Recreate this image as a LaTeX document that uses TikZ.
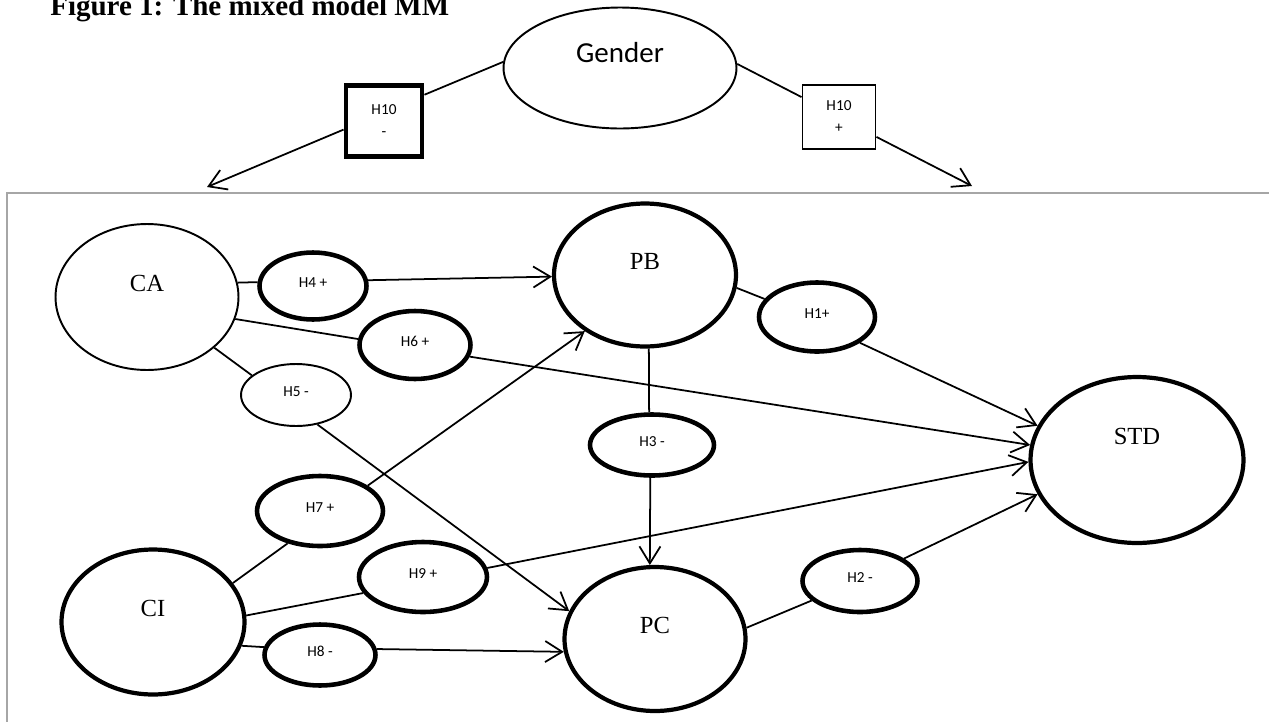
\documentclass[tikz,border=0pt]{standalone}
\usepackage{fontspec}
\setmainfont{Liberation Serif}
\newfontfamily\calibri{Carlito}
\usepackage{tikz}
\usetikzlibrary{shapes,positioning,arrows.meta}
\definecolor{framegray}{RGB}{166,166,166}

\begin{document}
\begin{tikzpicture}[x=0.02cm,y=-0.02cm]
        %
        % `construct' is used for the big ellipses, `hyp' for the small ones.
        % `hbox' is used for the two H10 boxes.
        % `effect' is used for the arrows.
        \tikzstyle{construct} = [draw,ellipse,inner sep=0pt,line width=1.1pt]
        \tikzstyle{hyp} = [draw,ellipse,inner sep=0pt,line width=2.6pt,text depth=4pt,font=\calibri\fontsize{8.7}{10}\selectfont]
        \tikzstyle{hbox} = [draw,rectangle,inner sep=0pt,align=center,font=\calibri\fontsize{8.7}{12.5}\selectfont]
        \tikzstyle{heavy} = [line width=2.4pt]
        \tikzstyle{slim} = [line width=1.1pt]
        \tikzstyle{lv} = [font=\fontsize{14}{16}\selectfont,yshift=0.28cm]
        \tikzstyle{link} = [line width=1pt]
        \tikzstyle{effect} = [link,-{Straight Barb[length=3.4mm,width=4.2mm]}]
        \useasboundingbox (0,0) rectangle (1269,721);
        %
        % Title
        \node[anchor=base west,inner sep=0pt,font=\bfseries\fontsize{16.5}{18}\selectfont] (title) at (50,15) {Figure 1: The mixed model MM};
        %
        % Gender
        \node[construct,minimum width=4.66cm,minimum height=2.42cm,label={[lv,font=\calibri\fontsize{16.5}{18}\selectfont,yshift=0.02cm]center:Gender}] (gender) at (620,68) {};
        \node[hbox,line width=2.8pt,minimum width=1.52cm,minimum height=1.42cm] (h10m) at (384,121) {H10\\-};
        \node[hbox,slim,minimum width=1.46cm,minimum height=1.28cm] (h10p) at (839,117) {H10\\+};
        \coordinate (tipL) at (207,187);
        \coordinate (tipR) at (972,186);
        \draw[link] (gender.177) -- (h10m.33);
        \draw[effect] (h10m.192) -- (tipL);
        \draw[link] (gender.2) -- (h10p.152);
        \draw[effect] (h10p.-28) -- (tipR);
        %
        % Frame
        \draw[framegray,line width=1.5pt] (7,193) rectangle (1300,760);
        %
        % Constructs
        \node[construct,minimum width=3.66cm,minimum height=2.92cm,label={[lv]center:CA}] (CA) at (147,297) {};
        \node[construct,heavy,minimum width=3.64cm,minimum height=2.86cm,label={[lv]center:PB}] (PB) at (645,275) {};
        \node[construct,heavy,minimum width=4.26cm,minimum height=3.32cm,label={[lv,yshift=0.2cm]center:STD}] (STD) at (1137,460) {};
        \node[construct,heavy,minimum width=3.66cm,minimum height=2.90cm,label={[lv]center:CI}] (CI) at (153,622) {};
        \node[construct,heavy,minimum width=3.62cm,minimum height=2.88cm,label={[lv]center:PC}] (PC) at (655,639) {};
        %
        % Hypotheses
        \node[hyp,minimum width=2.14cm,minimum height=1.34cm] (H4) at (313,286) {H4 +};
        \node[hyp,minimum width=2.22cm,minimum height=1.36cm] (H6) at (415,345) {H6 +};
        \node[hyp,slim,minimum width=2.2cm,minimum height=1.24cm] (H5) at (296,395) {H5 -};
        \node[hyp,minimum width=2.32cm,minimum height=1.38cm] (H1) at (817,317) {H1+};
        \node[hyp,minimum width=2.48cm,minimum height=1.22cm] (H3) at (652,445) {H3 -};
        \node[hyp,minimum width=2.52cm,minimum height=1.4cm] (H7) at (320,511) {H7 +};
        \node[hyp,minimum width=2.56cm,minimum height=1.4cm] (H9) at (423,577) {H9 +};
        \node[hyp,minimum width=2.22cm,minimum height=1.22cm] (H8) at (320,655) {H8 -};
        \node[hyp,minimum width=2.3cm,minimum height=1.24cm] (H2) at (860,581) {H2 -};
        %
        % Paths
        \draw[link] (CA.9) -- (H4.176);
        \draw[effect] (H4.6) -- (PB.181);
        \draw[link] (CA.-14) -- (H6.174);
        \draw[effect] (H6.-12) -- (STD.172);
        \draw[link] (CA.-37) -- (H5.156);
        \draw[effect] (H5.-54) -- (PC.162);
        \draw[link] (PB.-8) -- (H1.161);
        \draw[effect] (H1.-31) -- (STD.161);
        \draw[link] (PB.-87) -- (H3.95);
        \draw[effect] (H3.-93) -- (PC.94);
        \draw[link] (CI.26) -- (H7.225);
        \draw[effect] (H7.28) -- (PB.223);
        \draw[link] (CI.4) -- (H9.195);
        \draw[effect] (H9.8) -- (STD.181);
        \draw[link] (CI.-15) -- (H8.172);
        \draw[effect] (H8.6) -- (PC.188);
        \draw[link] (PC.7) -- (H2.202);
        \draw[effect] (H2.27) -- (STD.199);
        %
\end{tikzpicture}
\end{document}
